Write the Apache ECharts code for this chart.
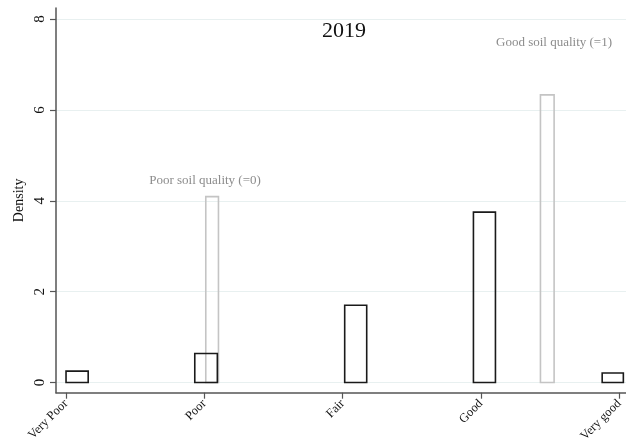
<!DOCTYPE html>
<html>
<head>
<meta charset="utf-8">
<script src="https://cdn.jsdelivr.net/npm/echarts@6/dist/echarts.min.js"></script>
<style>
  html, body { margin: 0; padding: 0; background: #ffffff; }
  #chart { width: 626px; height: 447px; }
</style>
</head>
<body>
<div id="chart"></div>
<script>
// Rating categories placed at 1..5 on a numeric axis
const ratingLabels = ['Very Poor', 'Poor', 'Fair', 'Good', 'Very good'];

// Histogram of the rating (black outline): bin start, bin end, density
const ratingBinStart = [1.0, 1.924, 3.0, 3.924, 4.848];
const ratingBinEnd = [1.159, 2.086, 3.158, 4.082, 5.0];
const ratingDensity = [0.25, 0.64, 1.70, 3.75, 0.21];

// Histogram of soil quality indicator (grey outline)
const soilBinStart = [2.003, 4.405];
const soilBinEnd = [2.094, 4.503];
const soilDensity = [4.09, 6.33];

// Density tick range
const densityMin = 0, densityMax = 8, densityStep = 2;

const serif = "'Liberation Serif', 'Times New Roman', serif";
const axisGrey = '#555555';

function toBars(starts, ends, heights) {
  return starts.map((s, i) => [s, ends[i], heights[i]]);
}

function outlinedBar(color) {
  return function (params, api) {
    const p0 = api.coord([api.value(0), api.value(2)]);
    const p1 = api.coord([api.value(1), 0]);
    return {
      type: 'rect',
      shape: { x: p0[0], y: p0[1], width: p1[0] - p0[0], height: p1[1] - p0[1] },
      style: { fill: 'none', stroke: color, lineWidth: 1.6 }
    };
  };
}

const chart = echarts.init(document.getElementById('chart'), null, { renderer: 'canvas' });

chart.setOption({
  animation: false,
  backgroundColor: '#ffffff',
  grid: [
    // plot region with the axis lines (padded a little below zero)
    { left: 56, right: 0, top: 8, bottom: 54.3 },
    // density ticks, labels and grid lines
    { left: 56, right: 0, top: 19, bottom: 64.5 },
    // rating ticks and labels
    { left: 66, right: 2.7, top: 8, bottom: 54.3 }
  ],
  xAxis: [
    {
      gridIndex: 0, type: 'value', min: 0.928, max: 5.019,
      axisLine: { show: true, onZero: false, lineStyle: { color: axisGrey, width: 1.5 } },
      axisTick: { show: false }, axisLabel: { show: false }, splitLine: { show: false }
    },
    { gridIndex: 1, type: 'value', show: false, min: 0, max: 1 },
    {
      gridIndex: 2, type: 'value', min: 1, max: 5, interval: 1,
      axisLine: { show: false },
      axisTick: { show: true, length: 6, lineStyle: { color: axisGrey, width: 1.2 } },
      axisLabel: {
        rotate: 45, margin: 9, fontFamily: serif, fontSize: 12.5, color: '#111111',
        formatter: v => ratingLabels[Math.round(v) - 1]
      },
      splitLine: { show: false }
    }
  ],
  yAxis: [
    {
      gridIndex: 0, type: 'value', min: -0.224, max: 8.242,
      name: 'Density', nameLocation: 'middle', nameRotate: 90, nameGap: 30,
      nameTextStyle: { fontFamily: serif, fontSize: 14, color: '#111111' },
      axisLine: { show: true, onZero: false, lineStyle: { color: axisGrey, width: 1.5 } },
      axisTick: { show: false }, axisLabel: { show: false }, splitLine: { show: false }
    },
    {
      gridIndex: 1, type: 'value', min: densityMin, max: densityMax, interval: densityStep,
      axisLine: { show: false },
      axisTick: { show: true, length: 6, lineStyle: { color: axisGrey, width: 1.2 } },
      axisLabel: { rotate: 90, margin: 8, fontFamily: serif, fontSize: 15, color: '#111111' },
      splitLine: { show: true, lineStyle: { color: '#e8f0f0', width: 1 } }
    },
    { gridIndex: 2, type: 'value', show: false, min: 0, max: 1 }
  ],
  series: [
    {
      type: 'custom', name: 'rating', xAxisIndex: 0, yAxisIndex: 0,
      renderItem: outlinedBar('#1a1a1a'),
      encode: { x: [0, 1], y: 2 },
      data: toBars(ratingBinStart, ratingBinEnd, ratingDensity),
      z: 3
    },
    {
      type: 'custom', name: 'soil', xAxisIndex: 0, yAxisIndex: 0,
      renderItem: outlinedBar('#c4c4c4'),
      encode: { x: [0, 1], y: 2 },
      data: toBars(soilBinStart, soilBinEnd, soilDensity),
      z: 2
    }
  ],
  graphic: [
    {
      type: 'text', x: 344, y: 31,
      style: { text: '2019', align: 'center', verticalAlign: 'middle', fontFamily: serif, fontSize: 22, fill: '#111111' }
    },
    {
      type: 'text', x: 205, y: 181,
      style: { text: 'Poor soil quality (=0)', align: 'center', verticalAlign: 'middle', fontFamily: serif, fontSize: 13, fill: '#8c8c8c' }
    },
    {
      type: 'text', x: 554, y: 43,
      style: { text: 'Good soil quality (=1)', align: 'center', verticalAlign: 'middle', fontFamily: serif, fontSize: 13, fill: '#8c8c8c' }
    }
  ]
});
</script>
</body>
</html>
